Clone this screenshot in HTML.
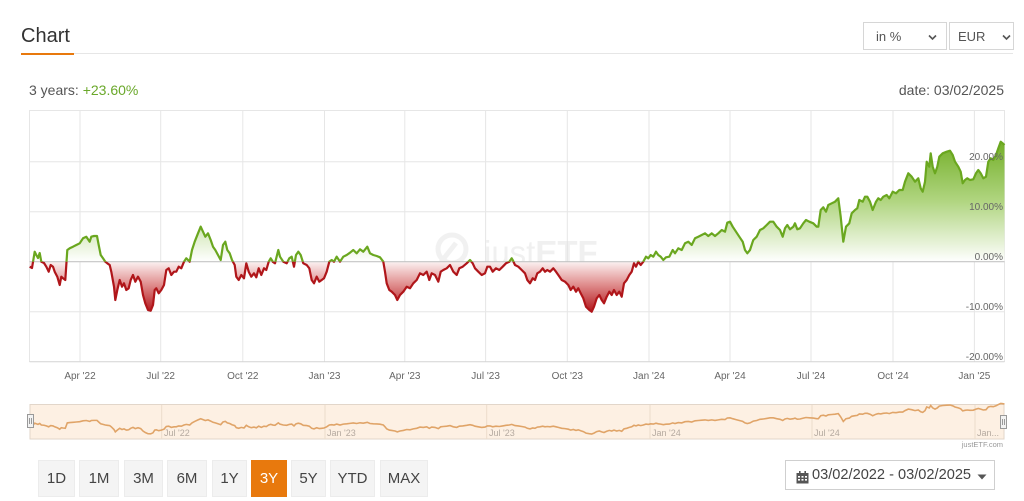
<!DOCTYPE html>
<html>
<head>
<meta charset="utf-8">
<style>
  html,body{margin:0;padding:0;background:#fff;}
  body{width:1024px;height:501px;overflow:hidden;position:relative;font-family:"Liberation Sans",Arial,sans-serif;}
  .abs{position:absolute;}
  .title{left:21px;top:24px;font-size:20px;color:#333;line-height:24px;}
  .sel{position:absolute;top:22px;height:28px;border:1px solid #d6d6d6;background:#fff;box-sizing:border-box;font-size:13px;color:#555;line-height:28px;}
  .btn{position:absolute;top:460px;height:37px;background:#f4f4f4;border:1px solid #ececec;box-sizing:border-box;font-size:15px;color:#444;line-height:35px;text-align:center;}
  .btn.on{background:#e8790d;border-color:#e8790d;color:#fff;}
</style>
</head>
<body>
  <div class="abs title">Chart</div>
  <div class="abs" style="left:21px;top:53px;width:992px;height:1px;background:#e6e6e6;"></div>
  <div class="abs" style="left:21px;top:53px;width:53px;height:2px;background:#e8790d;"></div>

  <div class="sel" style="left:863px;width:84px;">
    <span style="position:absolute;left:12px;">in %</span>
    <svg style="position:absolute;left:64px;top:11px" width="9" height="7"><polyline points="1,1.5 4.5,5 8,1.5" fill="none" stroke="#555" stroke-width="1.6"/></svg>
  </div>
  <div class="sel" style="left:949px;width:65px;">
    <span style="position:absolute;left:8px;">EUR</span>
    <svg style="position:absolute;left:52px;top:11px" width="9" height="7"><polyline points="1,1.5 4.5,5 8,1.5" fill="none" stroke="#555" stroke-width="1.6"/></svg>
  </div>

  <div class="abs" style="left:29px;top:81px;font-size:14px;color:#555;line-height:18px;">3 years: <span style="color:#6aa82a;">+23.60%</span></div>
  <div class="abs" style="right:20px;top:81px;font-size:14px;color:#555;line-height:18px;">date: 03/02/2025</div>

  <svg class="abs" style="left:0;top:0" width="1024" height="501" viewBox="0 0 1024 501">
    <defs>
      <linearGradient id="gg" gradientUnits="userSpaceOnUse" x1="0" y1="140" x2="0" y2="262">
        <stop offset="0" stop-color="#72ae26"/>
        <stop offset="0.5" stop-color="#b0d580"/>
        <stop offset="1" stop-color="#ffffff"/>
      </linearGradient>
      <linearGradient id="rg" gradientUnits="userSpaceOnUse" x1="0" y1="262" x2="0" y2="312">
        <stop offset="0" stop-color="#fbf0f0"/>
        <stop offset="0.45" stop-color="#e08e8e"/>
        <stop offset="1" stop-color="#b2161b"/>
      </linearGradient>
      <clipPath id="above"><rect x="0" y="0" width="1024" height="261.7"/></clipPath>
      <clipPath id="below"><rect x="0" y="261.7" width="1024" height="240"/></clipPath>
    </defs>

    <!-- grid -->
    <g stroke="#e6e6e6" stroke-width="1" fill="none">
      <line x1="29.5" y1="110.5" x2="1004.5" y2="110.5"/>
      <line x1="29.5" y1="161.7" x2="1004.5" y2="161.7"/>
      <line x1="29.5" y1="211.8" x2="1004.5" y2="211.8"/>
      <line x1="29.5" y1="311.8" x2="1004.5" y2="311.8"/>
      <line x1="29.5" y1="110" x2="29.5" y2="362"/>
      <line x1="1004.5" y1="110" x2="1004.5" y2="362"/>
      <line x1="80" y1="110" x2="80" y2="362"/>
      <line x1="160.7" y1="110" x2="160.7" y2="362"/>
      <line x1="242.8" y1="110" x2="242.8" y2="362"/>
      <line x1="324.5" y1="110" x2="324.5" y2="362"/>
      <line x1="404.8" y1="110" x2="404.8" y2="362"/>
      <line x1="485.6" y1="110" x2="485.6" y2="362"/>
      <line x1="567.3" y1="110" x2="567.3" y2="362"/>
      <line x1="649" y1="110" x2="649" y2="362"/>
      <line x1="730" y1="110" x2="730" y2="362"/>
      <line x1="811" y1="110" x2="811" y2="362"/>
      <line x1="893" y1="110" x2="893" y2="362"/>
      <line x1="974.4" y1="110" x2="974.4" y2="362"/>
    </g>
    <line x1="29.5" y1="361.7" x2="1004.5" y2="361.7" stroke="#d4d4d4" stroke-width="1"/>

    <!-- watermark -->
    <g opacity="0.5">
      <circle cx="452" cy="249" r="14" fill="none" stroke="#e4e4e4" stroke-width="5"/>
      <path d="M441,262 L456,243" stroke="#e4e4e4" stroke-width="5"/>
      <text x="484" y="264" font-family="Liberation Sans, Arial, sans-serif" font-size="33" fill="#e2e2e2">just<tspan font-weight="bold">ETF</tspan></text>
    </g>

    <!-- area fills -->
    <polygon clip-path="url(#above)" fill="url(#gg)" points="29.7,261.7 29.7,266.7 32,268 34.7,251.7 36.3,255 38,258 39.7,253 41.3,261.7 44,263 46.3,266.7 48.7,271.7 50.7,265 53,266.7 54.7,271.7 57.3,276.7 59.7,285 61.3,276.7 63,278.3 65.3,280 67.3,250 69.7,248.3 73,246.7 76.3,245 79.7,243.3 83,238.3 86.3,236.7 89.7,241.7 91.3,236.7 94,236 97,236 98.7,245 100.7,255 103,258.3 105.3,261.7 107.3,263.3 109.7,265 111.3,271.7 114,286.7 115.3,300 117.3,290 119.7,280 122,286.7 124,283.3 126.3,290 128.7,288.3 130.7,280 133,275 135.3,281.7 138,276.7 140.7,281.7 143,295 145.3,303.3 148,310 150.7,310.7 153,305 154.7,290 156.3,288.3 158.7,293.3 161.3,290 164,285 166.3,270 168.7,268.3 171.3,275 174,271.7 176.3,271.7 178.7,266.7 181.3,268.3 184,261.7 186.3,258.3 189.7,261.7 192,250 194.7,241.7 198,233.3 200.7,226.7 203,231.7 205.3,236.7 208,233.3 210.7,240 213,246.7 215.3,250 218,255 220.7,260 223,245 225.3,241.7 227.3,250 229.7,253.3 232,260 234.7,265 236.3,276.7 238.7,280 241.3,275 244,278.3 246.3,263.3 248.7,271.7 251.3,276.7 254,273.3 256.3,277.3 258.7,268.3 261.3,275 264,268.3 266.3,270 268.7,261.7 270.7,258.3 273,262 275,263.3 278.3,250 280,256.7 283.3,261.7 286.7,263.3 289.3,258.3 291.7,256.7 294,266.7 296,255 298.3,251.7 300.7,255 303.3,263.3 306.7,265 309.3,268.3 311.7,280 314,283.3 316.7,276.7 319.3,281.7 321.7,280 324,278.3 326.7,271.7 329.3,261.7 331.7,260 334,261.7 336.7,256.7 340,261.7 343.3,256.7 346.7,255 350,252.7 353.3,250 356.7,253.3 360,249.3 363.3,251.7 367.3,246.7 370,253.3 373.3,255 376.7,256 380,257.3 383.3,261.7 385,271.7 386.7,283.3 389.3,290 391.7,291.7 395,295 397.3,300 400,295 403.3,291.7 406.7,286.7 410,288.3 413.3,283.3 416.7,280 420,273.3 423.3,275 426.7,271.7 429.3,280 431.7,273.3 435,275 438.3,281.7 440.7,271.7 443.3,270 446.7,268.3 450,265 453.3,271.7 456.7,275 459.3,268.3 462.7,266.7 466.7,263.3 470,260 472.7,263.3 475,268.3 478.3,271.7 481.7,275 485,273.3 487.3,266.7 490,266.7 492.7,271.7 496,268.3 499.3,270 502.7,266.7 506,263.3 509.3,261.7 511.7,258.3 512.7,260 515,265 518.3,266.7 521.7,270 525,273.3 527.3,280 530,283.3 532.7,278.3 535,280 537.3,273.3 540,271.7 542.7,268.3 545,271.7 547.3,270 550,271.7 553.3,268.3 556,271.7 558.3,275 561.7,280 565,281.7 568.3,285 570.7,290 573.3,286.7 576,291.7 578.3,288.3 580.7,293.3 583.3,298.3 586,306.7 589.3,310 591.7,311.7 594,306.7 596.7,298.3 599.3,295 601.7,300 604,303.3 606.7,296.7 609.3,291.7 611.7,295 614,290 616.7,295 619.3,291.7 621.7,296.7 624,283.3 626.7,280 629.3,275 631.7,271.7 634,263.3 636,266.7 638.3,261.7 640.7,265 643.3,261.7 646,256.7 648.3,258.3 650.7,255 653.3,256.7 656,251.7 658.3,255 660.7,256.7 663.3,260 666,257.3 669.3,256.7 672.7,250 675,253.3 678.3,248.3 681.7,250 685,243.3 688.3,241.7 691.7,245 695,238.3 698.3,236.7 701.7,235 705,233.3 708.3,236 711.7,233.3 715,236 718.3,233.3 721.7,230 725,231.7 727.3,222.7 730,221.7 732.7,226.7 736,231.7 739.3,236.7 742.7,241.7 745,250 747.3,253.3 750,250 752.7,241.7 753.3,240 756.7,236.7 760,230 763.3,228.3 766.7,225 770,221.7 773.3,221.7 776.7,226.7 780,230 782.7,236.7 785,228.3 787.3,225 790,229.3 793.3,226.7 795,223.3 797.3,229.3 800,228.3 803.3,223.3 806,220 809.3,221.7 813.3,223.3 816.7,226.7 818.3,226.7 820.7,210 823.3,207.3 826,211.7 828.3,205 831.7,203.3 835,201.7 838.3,198.3 840.7,216.7 843.3,241.7 846,226.7 849.3,223.3 851.7,213.3 855,210 857.3,208.3 859.3,200 862.7,201.7 865,196.7 867.3,196.7 870,201.7 872.7,210 876,201.7 878.3,198.3 880.7,200 883.3,196.7 886.7,195 889.3,198.3 892.7,191.7 896,193.3 899.3,190 902.7,190 905,181.7 908.3,173.3 911.7,176.7 915,181.7 918.3,178.3 920.7,188.3 922.7,191.7 925,181.7 926.7,161.7 929.3,166.7 930.7,153.3 932.7,166.7 935,173.3 937.3,166.7 939.3,156.7 942.7,153.3 946.7,151.7 950,150.7 952.7,155 955,161.7 958.3,166.7 960.7,171.7 962.7,183.3 965,180 967.3,178.3 970,180 973.3,179.3 976,173.3 978.3,170 980.7,173.3 983.3,178.3 986,176.7 988.3,161.7 990.7,158.3 993.3,160 996,155 998.3,148.3 1000.7,141.7 1002.7,143.3 1004.5,145 1004.5,261.7"/>
    <polygon clip-path="url(#below)" fill="url(#rg)" points="29.7,261.7 29.7,266.7 32,268 34.7,251.7 36.3,255 38,258 39.7,253 41.3,261.7 44,263 46.3,266.7 48.7,271.7 50.7,265 53,266.7 54.7,271.7 57.3,276.7 59.7,285 61.3,276.7 63,278.3 65.3,280 67.3,250 69.7,248.3 73,246.7 76.3,245 79.7,243.3 83,238.3 86.3,236.7 89.7,241.7 91.3,236.7 94,236 97,236 98.7,245 100.7,255 103,258.3 105.3,261.7 107.3,263.3 109.7,265 111.3,271.7 114,286.7 115.3,300 117.3,290 119.7,280 122,286.7 124,283.3 126.3,290 128.7,288.3 130.7,280 133,275 135.3,281.7 138,276.7 140.7,281.7 143,295 145.3,303.3 148,310 150.7,310.7 153,305 154.7,290 156.3,288.3 158.7,293.3 161.3,290 164,285 166.3,270 168.7,268.3 171.3,275 174,271.7 176.3,271.7 178.7,266.7 181.3,268.3 184,261.7 186.3,258.3 189.7,261.7 192,250 194.7,241.7 198,233.3 200.7,226.7 203,231.7 205.3,236.7 208,233.3 210.7,240 213,246.7 215.3,250 218,255 220.7,260 223,245 225.3,241.7 227.3,250 229.7,253.3 232,260 234.7,265 236.3,276.7 238.7,280 241.3,275 244,278.3 246.3,263.3 248.7,271.7 251.3,276.7 254,273.3 256.3,277.3 258.7,268.3 261.3,275 264,268.3 266.3,270 268.7,261.7 270.7,258.3 273,262 275,263.3 278.3,250 280,256.7 283.3,261.7 286.7,263.3 289.3,258.3 291.7,256.7 294,266.7 296,255 298.3,251.7 300.7,255 303.3,263.3 306.7,265 309.3,268.3 311.7,280 314,283.3 316.7,276.7 319.3,281.7 321.7,280 324,278.3 326.7,271.7 329.3,261.7 331.7,260 334,261.7 336.7,256.7 340,261.7 343.3,256.7 346.7,255 350,252.7 353.3,250 356.7,253.3 360,249.3 363.3,251.7 367.3,246.7 370,253.3 373.3,255 376.7,256 380,257.3 383.3,261.7 385,271.7 386.7,283.3 389.3,290 391.7,291.7 395,295 397.3,300 400,295 403.3,291.7 406.7,286.7 410,288.3 413.3,283.3 416.7,280 420,273.3 423.3,275 426.7,271.7 429.3,280 431.7,273.3 435,275 438.3,281.7 440.7,271.7 443.3,270 446.7,268.3 450,265 453.3,271.7 456.7,275 459.3,268.3 462.7,266.7 466.7,263.3 470,260 472.7,263.3 475,268.3 478.3,271.7 481.7,275 485,273.3 487.3,266.7 490,266.7 492.7,271.7 496,268.3 499.3,270 502.7,266.7 506,263.3 509.3,261.7 511.7,258.3 512.7,260 515,265 518.3,266.7 521.7,270 525,273.3 527.3,280 530,283.3 532.7,278.3 535,280 537.3,273.3 540,271.7 542.7,268.3 545,271.7 547.3,270 550,271.7 553.3,268.3 556,271.7 558.3,275 561.7,280 565,281.7 568.3,285 570.7,290 573.3,286.7 576,291.7 578.3,288.3 580.7,293.3 583.3,298.3 586,306.7 589.3,310 591.7,311.7 594,306.7 596.7,298.3 599.3,295 601.7,300 604,303.3 606.7,296.7 609.3,291.7 611.7,295 614,290 616.7,295 619.3,291.7 621.7,296.7 624,283.3 626.7,280 629.3,275 631.7,271.7 634,263.3 636,266.7 638.3,261.7 640.7,265 643.3,261.7 646,256.7 648.3,258.3 650.7,255 1004.5,255 1004.5,261.7"/>

    <!-- zero line -->
    <line x1="29.5" y1="261.7" x2="1004.5" y2="261.7" stroke="#c4c4c4" stroke-width="1.2"/>

    <!-- series line -->
    <g fill="none" stroke-width="2.2" stroke-linejoin="round">
      <polyline clip-path="url(#above)" stroke="#6aa71f" points="29.7,266.7 32,268 34.7,251.7 36.3,255 38,258 39.7,253 41.3,261.7 44,263 46.3,266.7 48.7,271.7 50.7,265 53,266.7 54.7,271.7 57.3,276.7 59.7,285 61.3,276.7 63,278.3 65.3,280 67.3,250 69.7,248.3 73,246.7 76.3,245 79.7,243.3 83,238.3 86.3,236.7 89.7,241.7 91.3,236.7 94,236 97,236 98.7,245 100.7,255 103,258.3 105.3,261.7 107.3,263.3 109.7,265 111.3,271.7 114,286.7 115.3,300 117.3,290 119.7,280 122,286.7 124,283.3 126.3,290 128.7,288.3 130.7,280 133,275 135.3,281.7 138,276.7 140.7,281.7 143,295 145.3,303.3 148,310 150.7,310.7 153,305 154.7,290 156.3,288.3 158.7,293.3 161.3,290 164,285 166.3,270 168.7,268.3 171.3,275 174,271.7 176.3,271.7 178.7,266.7 181.3,268.3 184,261.7 186.3,258.3 189.7,261.7 192,250 194.7,241.7 198,233.3 200.7,226.7 203,231.7 205.3,236.7 208,233.3 210.7,240 213,246.7 215.3,250 218,255 220.7,260 223,245 225.3,241.7 227.3,250 229.7,253.3 232,260 234.7,265 236.3,276.7 238.7,280 241.3,275 244,278.3 246.3,263.3 248.7,271.7 251.3,276.7 254,273.3 256.3,277.3 258.7,268.3 261.3,275 264,268.3 266.3,270 268.7,261.7 270.7,258.3 273,262 275,263.3 278.3,250 280,256.7 283.3,261.7 286.7,263.3 289.3,258.3 291.7,256.7 294,266.7 296,255 298.3,251.7 300.7,255 303.3,263.3 306.7,265 309.3,268.3 311.7,280 314,283.3 316.7,276.7 319.3,281.7 321.7,280 324,278.3 326.7,271.7 329.3,261.7 331.7,260 334,261.7 336.7,256.7 340,261.7 343.3,256.7 346.7,255 350,252.7 353.3,250 356.7,253.3 360,249.3 363.3,251.7 367.3,246.7 370,253.3 373.3,255 376.7,256 380,257.3 383.3,261.7 385,271.7 386.7,283.3 389.3,290 391.7,291.7 395,295 397.3,300 400,295 403.3,291.7 406.7,286.7 410,288.3 413.3,283.3 416.7,280 420,273.3 423.3,275 426.7,271.7 429.3,280 431.7,273.3 435,275 438.3,281.7 440.7,271.7 443.3,270 446.7,268.3 450,265 453.3,271.7 456.7,275 459.3,268.3 462.7,266.7 466.7,263.3 470,260 472.7,263.3 475,268.3 478.3,271.7 481.7,275 485,273.3 487.3,266.7 490,266.7 492.7,271.7 496,268.3 499.3,270 502.7,266.7 506,263.3 509.3,261.7 511.7,258.3 512.7,260 515,265 518.3,266.7 521.7,270 525,273.3 527.3,280 530,283.3 532.7,278.3 535,280 537.3,273.3 540,271.7 542.7,268.3 545,271.7 547.3,270 550,271.7 553.3,268.3 556,271.7 558.3,275 561.7,280 565,281.7 568.3,285 570.7,290 573.3,286.7 576,291.7 578.3,288.3 580.7,293.3 583.3,298.3 586,306.7 589.3,310 591.7,311.7 594,306.7 596.7,298.3 599.3,295 601.7,300 604,303.3 606.7,296.7 609.3,291.7 611.7,295 614,290 616.7,295 619.3,291.7 621.7,296.7 624,283.3 626.7,280 629.3,275 631.7,271.7 634,263.3 636,266.7 638.3,261.7 640.7,265 643.3,261.7 646,256.7 648.3,258.3 650.7,255 653.3,256.7 656,251.7 658.3,255 660.7,256.7 663.3,260 666,257.3 669.3,256.7 672.7,250 675,253.3 678.3,248.3 681.7,250 685,243.3 688.3,241.7 691.7,245 695,238.3 698.3,236.7 701.7,235 705,233.3 708.3,236 711.7,233.3 715,236 718.3,233.3 721.7,230 725,231.7 727.3,222.7 730,221.7 732.7,226.7 736,231.7 739.3,236.7 742.7,241.7 745,250 747.3,253.3 750,250 752.7,241.7 753.3,240 756.7,236.7 760,230 763.3,228.3 766.7,225 770,221.7 773.3,221.7 776.7,226.7 780,230 782.7,236.7 785,228.3 787.3,225 790,229.3 793.3,226.7 795,223.3 797.3,229.3 800,228.3 803.3,223.3 806,220 809.3,221.7 813.3,223.3 816.7,226.7 818.3,226.7 820.7,210 823.3,207.3 826,211.7 828.3,205 831.7,203.3 835,201.7 838.3,198.3 840.7,216.7 843.3,241.7 846,226.7 849.3,223.3 851.7,213.3 855,210 857.3,208.3 859.3,200 862.7,201.7 865,196.7 867.3,196.7 870,201.7 872.7,210 876,201.7 878.3,198.3 880.7,200 883.3,196.7 886.7,195 889.3,198.3 892.7,191.7 896,193.3 899.3,190 902.7,190 905,181.7 908.3,173.3 911.7,176.7 915,181.7 918.3,178.3 920.7,188.3 922.7,191.7 925,181.7 926.7,161.7 929.3,166.7 930.7,153.3 932.7,166.7 935,173.3 937.3,166.7 939.3,156.7 942.7,153.3 946.7,151.7 950,150.7 952.7,155 955,161.7 958.3,166.7 960.7,171.7 962.7,183.3 965,180 967.3,178.3 970,180 973.3,179.3 976,173.3 978.3,170 980.7,173.3 983.3,178.3 986,176.7 988.3,161.7 990.7,158.3 993.3,160 996,155 998.3,148.3 1000.7,141.7 1002.7,143.3 1004.5,145"/>
      <polyline clip-path="url(#below)" stroke="#b0161a" points="29.7,266.7 32,268 34.7,251.7 36.3,255 38,258 39.7,253 41.3,261.7 44,263 46.3,266.7 48.7,271.7 50.7,265 53,266.7 54.7,271.7 57.3,276.7 59.7,285 61.3,276.7 63,278.3 65.3,280 67.3,250 69.7,248.3 73,246.7 76.3,245 79.7,243.3 83,238.3 86.3,236.7 89.7,241.7 91.3,236.7 94,236 97,236 98.7,245 100.7,255 103,258.3 105.3,261.7 107.3,263.3 109.7,265 111.3,271.7 114,286.7 115.3,300 117.3,290 119.7,280 122,286.7 124,283.3 126.3,290 128.7,288.3 130.7,280 133,275 135.3,281.7 138,276.7 140.7,281.7 143,295 145.3,303.3 148,310 150.7,310.7 153,305 154.7,290 156.3,288.3 158.7,293.3 161.3,290 164,285 166.3,270 168.7,268.3 171.3,275 174,271.7 176.3,271.7 178.7,266.7 181.3,268.3 184,261.7 186.3,258.3 189.7,261.7 192,250 194.7,241.7 198,233.3 200.7,226.7 203,231.7 205.3,236.7 208,233.3 210.7,240 213,246.7 215.3,250 218,255 220.7,260 223,245 225.3,241.7 227.3,250 229.7,253.3 232,260 234.7,265 236.3,276.7 238.7,280 241.3,275 244,278.3 246.3,263.3 248.7,271.7 251.3,276.7 254,273.3 256.3,277.3 258.7,268.3 261.3,275 264,268.3 266.3,270 268.7,261.7 270.7,258.3 273,262 275,263.3 278.3,250 280,256.7 283.3,261.7 286.7,263.3 289.3,258.3 291.7,256.7 294,266.7 296,255 298.3,251.7 300.7,255 303.3,263.3 306.7,265 309.3,268.3 311.7,280 314,283.3 316.7,276.7 319.3,281.7 321.7,280 324,278.3 326.7,271.7 329.3,261.7 331.7,260 334,261.7 336.7,256.7 340,261.7 343.3,256.7 346.7,255 350,252.7 353.3,250 356.7,253.3 360,249.3 363.3,251.7 367.3,246.7 370,253.3 373.3,255 376.7,256 380,257.3 383.3,261.7 385,271.7 386.7,283.3 389.3,290 391.7,291.7 395,295 397.3,300 400,295 403.3,291.7 406.7,286.7 410,288.3 413.3,283.3 416.7,280 420,273.3 423.3,275 426.7,271.7 429.3,280 431.7,273.3 435,275 438.3,281.7 440.7,271.7 443.3,270 446.7,268.3 450,265 453.3,271.7 456.7,275 459.3,268.3 462.7,266.7 466.7,263.3 470,260 472.7,263.3 475,268.3 478.3,271.7 481.7,275 485,273.3 487.3,266.7 490,266.7 492.7,271.7 496,268.3 499.3,270 502.7,266.7 506,263.3 509.3,261.7 511.7,258.3 512.7,260 515,265 518.3,266.7 521.7,270 525,273.3 527.3,280 530,283.3 532.7,278.3 535,280 537.3,273.3 540,271.7 542.7,268.3 545,271.7 547.3,270 550,271.7 553.3,268.3 556,271.7 558.3,275 561.7,280 565,281.7 568.3,285 570.7,290 573.3,286.7 576,291.7 578.3,288.3 580.7,293.3 583.3,298.3 586,306.7 589.3,310 591.7,311.7 594,306.7 596.7,298.3 599.3,295 601.7,300 604,303.3 606.7,296.7 609.3,291.7 611.7,295 614,290 616.7,295 619.3,291.7 621.7,296.7 624,283.3 626.7,280 629.3,275 631.7,271.7 634,263.3 636,266.7 638.3,261.7 640.7,265 643.3,261.7 646,256.7 648.3,258.3 650.7,255"/>
    </g>

    <!-- y labels -->
    <g font-family="Liberation Sans, Arial, sans-serif" font-size="10" fill="#666" text-anchor="end">
      <text x="1003" y="160">20.00%</text>
      <text x="1003" y="210">10.00%</text>
      <text x="1003" y="260">0.00%</text>
      <text x="1003" y="310">-10.00%</text>
      <text x="1003" y="360">-20.00%</text>
    </g>
    <!-- x labels -->
    <g font-family="Liberation Sans, Arial, sans-serif" font-size="10" fill="#666" text-anchor="middle">
      <text x="80" y="379">Apr '22</text>
      <text x="160.7" y="379">Jul '22</text>
      <text x="242.8" y="379">Oct '22</text>
      <text x="324.5" y="379">Jan '23</text>
      <text x="404.8" y="379">Apr '23</text>
      <text x="485.6" y="379">Jul '23</text>
      <text x="567.3" y="379">Oct '23</text>
      <text x="649" y="379">Jan '24</text>
      <text x="730" y="379">Apr '24</text>
      <text x="811" y="379">Jul '24</text>
      <text x="893" y="379">Oct '24</text>
      <text x="974.4" y="379">Jan '25</text>
    </g>

    <!-- navigator -->
    <rect x="30" y="404.5" width="974" height="34.5" fill="#fdf0e3" stroke="#e2d6ca" stroke-width="1"/>
    <g stroke="#ecdccb" stroke-width="1">
      <line x1="161.7" y1="405" x2="161.7" y2="439"/>
      <line x1="325" y1="405" x2="325" y2="439"/>
      <line x1="486.7" y1="405" x2="486.7" y2="439"/>
      <line x1="650" y1="405" x2="650" y2="439"/>
      <line x1="812" y1="405" x2="812" y2="439"/>
      <line x1="975" y1="405" x2="975" y2="439"/>
    </g>
    <g font-family="Liberation Sans, Arial, sans-serif" font-size="9" fill="#b5aaa0">
      <text x="164" y="436">Jul '22</text>
      <text x="327" y="436">Jan '23</text>
      <text x="489" y="436">Jul '23</text>
      <text x="652" y="436">Jan '24</text>
      <text x="814" y="436">Jul '24</text>
      <text x="977" y="436">Jan...</text>
    </g>
    <g transform="translate(0,377.9) scale(1,0.18)">
      <polyline fill="none" stroke="#e0a468" stroke-width="1.6" vector-effect="non-scaling-stroke" points="29.7,266.7 32,268 34.7,251.7 36.3,255 38,258 39.7,253 41.3,261.7 44,263 46.3,266.7 48.7,271.7 50.7,265 53,266.7 54.7,271.7 57.3,276.7 59.7,285 61.3,276.7 63,278.3 65.3,280 67.3,250 69.7,248.3 73,246.7 76.3,245 79.7,243.3 83,238.3 86.3,236.7 89.7,241.7 91.3,236.7 94,236 97,236 98.7,245 100.7,255 103,258.3 105.3,261.7 107.3,263.3 109.7,265 111.3,271.7 114,286.7 115.3,300 117.3,290 119.7,280 122,286.7 124,283.3 126.3,290 128.7,288.3 130.7,280 133,275 135.3,281.7 138,276.7 140.7,281.7 143,295 145.3,303.3 148,310 150.7,310.7 153,305 154.7,290 156.3,288.3 158.7,293.3 161.3,290 164,285 166.3,270 168.7,268.3 171.3,275 174,271.7 176.3,271.7 178.7,266.7 181.3,268.3 184,261.7 186.3,258.3 189.7,261.7 192,250 194.7,241.7 198,233.3 200.7,226.7 203,231.7 205.3,236.7 208,233.3 210.7,240 213,246.7 215.3,250 218,255 220.7,260 223,245 225.3,241.7 227.3,250 229.7,253.3 232,260 234.7,265 236.3,276.7 238.7,280 241.3,275 244,278.3 246.3,263.3 248.7,271.7 251.3,276.7 254,273.3 256.3,277.3 258.7,268.3 261.3,275 264,268.3 266.3,270 268.7,261.7 270.7,258.3 273,262 275,263.3 278.3,250 280,256.7 283.3,261.7 286.7,263.3 289.3,258.3 291.7,256.7 294,266.7 296,255 298.3,251.7 300.7,255 303.3,263.3 306.7,265 309.3,268.3 311.7,280 314,283.3 316.7,276.7 319.3,281.7 321.7,280 324,278.3 326.7,271.7 329.3,261.7 331.7,260 334,261.7 336.7,256.7 340,261.7 343.3,256.7 346.7,255 350,252.7 353.3,250 356.7,253.3 360,249.3 363.3,251.7 367.3,246.7 370,253.3 373.3,255 376.7,256 380,257.3 383.3,261.7 385,271.7 386.7,283.3 389.3,290 391.7,291.7 395,295 397.3,300 400,295 403.3,291.7 406.7,286.7 410,288.3 413.3,283.3 416.7,280 420,273.3 423.3,275 426.7,271.7 429.3,280 431.7,273.3 435,275 438.3,281.7 440.7,271.7 443.3,270 446.7,268.3 450,265 453.3,271.7 456.7,275 459.3,268.3 462.7,266.7 466.7,263.3 470,260 472.7,263.3 475,268.3 478.3,271.7 481.7,275 485,273.3 487.3,266.7 490,266.7 492.7,271.7 496,268.3 499.3,270 502.7,266.7 506,263.3 509.3,261.7 511.7,258.3 512.7,260 515,265 518.3,266.7 521.7,270 525,273.3 527.3,280 530,283.3 532.7,278.3 535,280 537.3,273.3 540,271.7 542.7,268.3 545,271.7 547.3,270 550,271.7 553.3,268.3 556,271.7 558.3,275 561.7,280 565,281.7 568.3,285 570.7,290 573.3,286.7 576,291.7 578.3,288.3 580.7,293.3 583.3,298.3 586,306.7 589.3,310 591.7,311.7 594,306.7 596.7,298.3 599.3,295 601.7,300 604,303.3 606.7,296.7 609.3,291.7 611.7,295 614,290 616.7,295 619.3,291.7 621.7,296.7 624,283.3 626.7,280 629.3,275 631.7,271.7 634,263.3 636,266.7 638.3,261.7 640.7,265 643.3,261.7 646,256.7 648.3,258.3 650.7,255 653.3,256.7 656,251.7 658.3,255 660.7,256.7 663.3,260 666,257.3 669.3,256.7 672.7,250 675,253.3 678.3,248.3 681.7,250 685,243.3 688.3,241.7 691.7,245 695,238.3 698.3,236.7 701.7,235 705,233.3 708.3,236 711.7,233.3 715,236 718.3,233.3 721.7,230 725,231.7 727.3,222.7 730,221.7 732.7,226.7 736,231.7 739.3,236.7 742.7,241.7 745,250 747.3,253.3 750,250 752.7,241.7 753.3,240 756.7,236.7 760,230 763.3,228.3 766.7,225 770,221.7 773.3,221.7 776.7,226.7 780,230 782.7,236.7 785,228.3 787.3,225 790,229.3 793.3,226.7 795,223.3 797.3,229.3 800,228.3 803.3,223.3 806,220 809.3,221.7 813.3,223.3 816.7,226.7 818.3,226.7 820.7,210 823.3,207.3 826,211.7 828.3,205 831.7,203.3 835,201.7 838.3,198.3 840.7,216.7 843.3,241.7 846,226.7 849.3,223.3 851.7,213.3 855,210 857.3,208.3 859.3,200 862.7,201.7 865,196.7 867.3,196.7 870,201.7 872.7,210 876,201.7 878.3,198.3 880.7,200 883.3,196.7 886.7,195 889.3,198.3 892.7,191.7 896,193.3 899.3,190 902.7,190 905,181.7 908.3,173.3 911.7,176.7 915,181.7 918.3,178.3 920.7,188.3 922.7,191.7 925,181.7 926.7,161.7 929.3,166.7 930.7,153.3 932.7,166.7 935,173.3 937.3,166.7 939.3,156.7 942.7,153.3 946.7,151.7 950,150.7 952.7,155 955,161.7 958.3,166.7 960.7,171.7 962.7,183.3 965,180 967.3,178.3 970,180 973.3,179.3 976,173.3 978.3,170 980.7,173.3 983.3,178.3 986,176.7 988.3,161.7 990.7,158.3 993.3,160 996,155 998.3,148.3 1000.7,141.7 1002.7,143.3 1004.5,145"/>
    </g>
    <!-- handles -->
    <g fill="#f2f2f2" stroke="#999" stroke-width="1">
      <rect x="27.5" y="414.5" width="6" height="13"/>
      <rect x="1000.5" y="415.5" width="6" height="13"/>
    </g>
    <g stroke="#999" stroke-width="1">
      <line x1="29.5" y1="418" x2="29.5" y2="424"/>
      <line x1="31.5" y1="418" x2="31.5" y2="424"/>
      <line x1="1002.5" y1="419" x2="1002.5" y2="425"/>
      <line x1="1004.5" y1="419" x2="1004.5" y2="425"/>
    </g>
    <text x="1003" y="447" font-family="Liberation Sans, Arial, sans-serif" font-size="7.5" fill="#999" text-anchor="end">justETF.com</text>
  </svg>

  <div class="btn" style="left:38px;width:37px;">1D</div>
  <div class="btn" style="left:79px;width:40px;">1M</div>
  <div class="btn" style="left:124px;width:39px;">3M</div>
  <div class="btn" style="left:167px;width:40px;">6M</div>
  <div class="btn" style="left:212px;width:35px;">1Y</div>
  <div class="btn on" style="left:251px;width:36px;">3Y</div>
  <div class="btn" style="left:291px;width:35px;">5Y</div>
  <div class="btn" style="left:330px;width:45px;">YTD</div>
  <div class="btn" style="left:380px;width:48px;">MAX</div>

  <div class="abs" style="left:785px;top:460px;width:210px;height:30px;border:1px solid #cfcfcf;box-sizing:border-box;background:#fff;">
    <svg style="position:absolute;left:10px;top:10px" width="13" height="13" viewBox="0 0 13 13">
      <rect x="0.5" y="2" width="12" height="10.5" fill="#555"/>
      <rect x="3" y="0" width="1.6" height="3" fill="#555"/>
      <rect x="8.4" y="0" width="1.6" height="3" fill="#555"/>
      <g fill="#fff">
        <rect x="2" y="5" width="2" height="1.6"/><rect x="5.5" y="5" width="2" height="1.6"/><rect x="9" y="5" width="2" height="1.6"/>
        <rect x="2" y="8" width="2" height="1.6"/><rect x="5.5" y="8" width="2" height="1.6"/><rect x="9" y="8" width="2" height="1.6"/>
      </g>
    </svg>
    <span style="position:absolute;left:26px;top:5px;font-size:14.6px;color:#444;line-height:18px;white-space:nowrap;">03/02/2022 - 03/02/2025</span>
    <svg style="position:absolute;left:191px;top:13px" width="10" height="6"><polygon points="0.5,0.5 9.5,0.5 5,5.5" fill="#555"/></svg>
  </div>
</body>
</html>
